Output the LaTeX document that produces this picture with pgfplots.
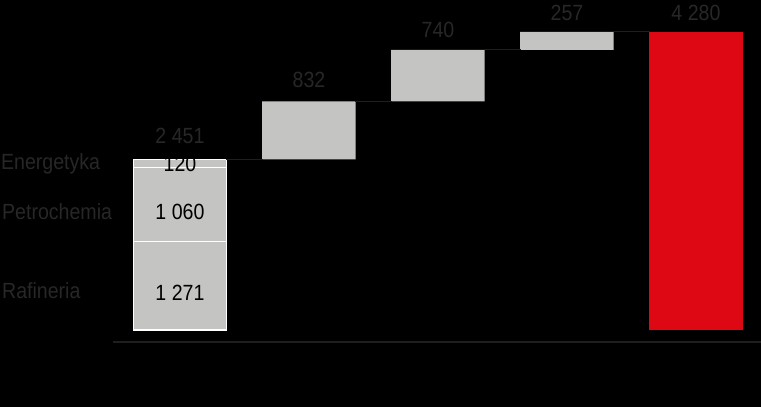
\documentclass[border=0pt]{standalone}
\usepackage{fontspec}
\setmainfont[FakeStretch=0.89]{Liberation Sans}
\usepackage{pgfplots}
\pgfplotsset{compat=1.18}
\definecolor{bargrey}{HTML}{C4C4C2}
\definecolor{barred}{HTML}{DE0714}
\definecolor{lblgrey}{HTML}{272727}
\definecolor{axgrey}{HTML}{1E1E1E}
\begin{document}
\begin{tikzpicture}
\useasboundingbox (0,0) rectangle (761pt,407pt);
\fill[black] (0,0) rectangle (761pt,407pt);
\pgfplotsset{wf/.style={at={(113pt,65pt)}, anchor=south west, scale only axis,
  width=648pt, height=342pt, xmin=-0.519, xmax=4.504, ymin=-172.35, ymax=4739.6,
  xtick=\empty, ytick=\empty, clip=false}}
\begin{axis}[wf, axis y line=none, axis x line*=bottom,
  x axis line style={draw=axgrey, line width=1.3pt},
  ybar stacked, bar width=93.5pt]
\addplot[fill=none, draw=none] coordinates {(0,0) (1,2451) (2,3283) (3,4023) (4,0)};
\addplot[fill=bargrey, draw=none] coordinates {(0,0) (1,832) (2,740) (3,257) (4,0)};
\addplot[fill=barred, draw=none] coordinates {(0,0) (1,0) (2,0) (3,0) (4,4280)};
\addplot[fill=bargrey, draw=white, line width=1.2pt] coordinates {(0,1271)};
\addplot[fill=bargrey, draw=white, line width=1.2pt] coordinates {(0,1060)};
\addplot[fill=bargrey, draw=white, line width=1.2pt] coordinates {(0,120)};
\end{axis}
\begin{axis}[wf, axis lines=none]
\addplot[axgrey, line width=1pt, mark=none] coordinates {(0.36,2451) (0.64,2451)};
\addplot[axgrey, line width=1pt, mark=none] coordinates {(1.36,3283) (1.64,3283)};
\addplot[axgrey, line width=1pt, mark=none] coordinates {(2.36,4023) (2.64,4023)};
\addplot[axgrey, line width=1pt, mark=none] coordinates {(3.36,4280) (3.64,4280)};
\begin{scope}[every node/.style={font=\fontsize{22}{26}\selectfont, inner sep=0pt}]
\node[text=lblgrey] at (axis cs:0,2786) {2 451};
\node[text=lblgrey] at (axis cs:1,3590) {832};
\node[text=lblgrey] at (axis cs:2,4309) {740};
\node[text=lblgrey] at (axis cs:3,4553) {257};
\node[text=lblgrey] at (axis cs:4,4553) {4 280};
\node[text=black] at (axis cs:0,2384) {120};
\node[text=black] at (axis cs:0,1695) {1 060};
\node[text=black] at (axis cs:0,531) {1 271};
\node[text=lblgrey, anchor=west] at (axis cs:-1.388,2384) {Energetyka};
\node[text=lblgrey, anchor=west] at (axis cs:-1.380,1695) {Petrochemia};
\node[text=lblgrey, anchor=west] at (axis cs:-1.380,560) {Rafineria};
\end{scope}
\end{axis}
\end{tikzpicture}
\end{document}
